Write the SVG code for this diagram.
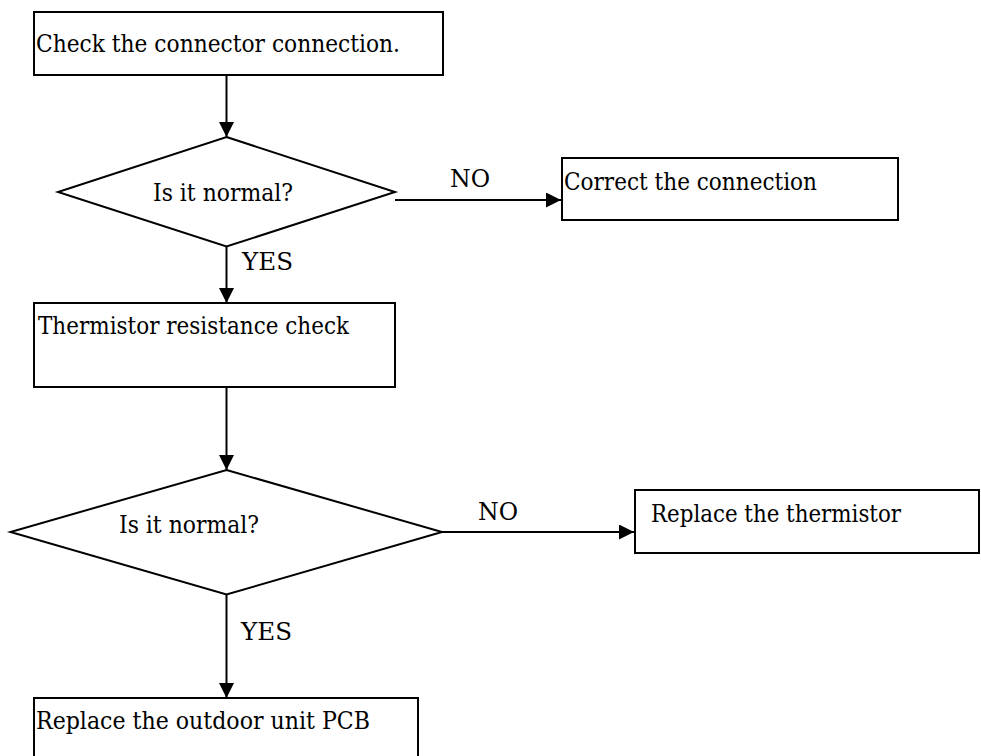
<svg xmlns="http://www.w3.org/2000/svg" width="981" height="756" viewBox="0 0 981 756">
<style>
.box{fill:#fff;stroke:#000;stroke-width:2}
.dec{fill:#fff;stroke:#000;stroke-width:2}
.ln{fill:none;stroke:#000;stroke-width:2}
text{font-family:'DejaVu Serif','Liberation Serif',serif;font-size:25px;fill:#000}
</style>
<defs>
<marker id="arr" markerUnits="userSpaceOnUse" markerWidth="15" markerHeight="15" refX="15" refY="7.5" orient="auto">
<path d="M0,0 L15,7.5 L0,15 z" fill="#000"/>
</marker>
</defs>
<rect width="981" height="756" fill="#fff"/>
<g id="connectors">
<line class="ln" x1="226.5" y1="75" x2="226.5" y2="137" marker-end="url(#arr)"/>
<line class="ln" x1="395" y1="200" x2="561" y2="200" marker-end="url(#arr)"/>
<line class="ln" x1="226.5" y1="246" x2="226.5" y2="303" marker-end="url(#arr)"/>
<line class="ln" x1="226.5" y1="387" x2="226.5" y2="470" marker-end="url(#arr)"/>
<line class="ln" x1="442" y1="532" x2="634" y2="532" marker-end="url(#arr)"/>
<line class="ln" x1="226.5" y1="594" x2="226.5" y2="698" marker-end="url(#arr)"/>
<text x="450" y="187" textLength="40" lengthAdjust="spacingAndGlyphs">NO</text>
<text x="242" y="270" textLength="51" lengthAdjust="spacingAndGlyphs">YES</text>
<text x="478" y="520" textLength="40" lengthAdjust="spacingAndGlyphs">NO</text>
<text x="241" y="640" textLength="51" lengthAdjust="spacingAndGlyphs">YES</text>
</g>
<g id="n1">
<rect class="box" x="34" y="12" width="409" height="63"/>
<text x="36" y="52" textLength="364" lengthAdjust="spacingAndGlyphs">Check the connector connection.</text>
</g>
<g id="d1">
<polygon class="dec" points="226.5,137 395,192 226.5,246.5 58,192"/>
<text x="153" y="201" textLength="140" lengthAdjust="spacingAndGlyphs">Is it normal?</text>
</g>
<g id="n2">
<rect class="box" x="562" y="158" width="336" height="62"/>
<text x="564" y="190" textLength="253" lengthAdjust="spacingAndGlyphs">Correct the connection</text>
</g>
<g id="n3">
<rect class="box" x="34" y="303" width="361" height="84"/>
<text x="38" y="334" textLength="311" lengthAdjust="spacingAndGlyphs">Thermistor resistance check</text>
</g>
<g id="d2">
<polygon class="dec" points="226.5,470 442,532 226.5,594.5 10.5,532"/>
<text x="119" y="533" textLength="140" lengthAdjust="spacingAndGlyphs">Is it normal?</text>
</g>
<g id="n4">
<rect class="box" x="635" y="490" width="344" height="63"/>
<text x="651" y="522" textLength="250" lengthAdjust="spacingAndGlyphs">Replace the thermistor</text>
</g>
<g id="n5">
<rect class="box" x="34" y="698" width="384" height="80"/>
<text x="36" y="729" textLength="334" lengthAdjust="spacingAndGlyphs">Replace the outdoor unit PCB</text>
</g>
</svg>
